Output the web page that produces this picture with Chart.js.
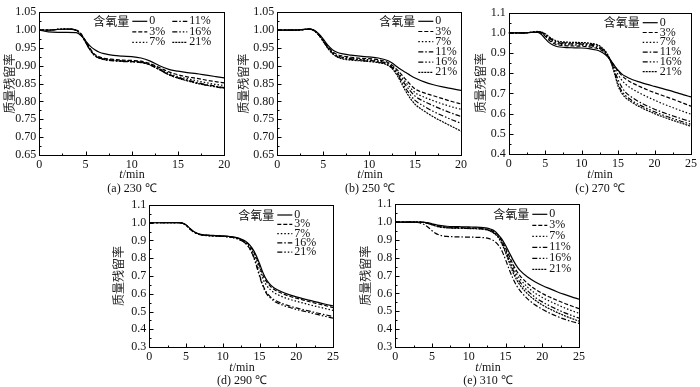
<!DOCTYPE html>
<html>
<head>
<meta charset="utf-8">
<script src="https://cdn.jsdelivr.net/npm/chart.js@4.4.0/dist/chart.umd.min.js"></script>
<style>
  body { margin: 0; background: #fff; width: 700px; height: 387px; position: relative; overflow: hidden; font-family: "Liberation Serif", serif; }
  canvas { position: absolute; }
  .lbl { position: absolute; transform: translate(-50%, -50%); font-size: 12px; line-height: 1; white-space: nowrap; color: #111; }
</style>
</head>
<body>
<canvas id="pa"></canvas>
<canvas id="pb"></canvas>
<canvas id="pc"></canvas>
<canvas id="pd"></canvas>
<canvas id="pe"></canvas>

<div class="lbl" style="left:132px;top:174px"><i>t</i>/min</div>
<div class="lbl" style="left:132px;top:188px">(a) 230 ℃</div>
<div class="lbl" style="left:370px;top:174px"><i>t</i>/min</div>
<div class="lbl" style="left:370px;top:188px">(b) 250 ℃</div>
<div class="lbl" style="left:600px;top:174px"><i>t</i>/min</div>
<div class="lbl" style="left:600px;top:188px">(c) 270 ℃</div>
<div class="lbl" style="left:242px;top:367px"><i>t</i>/min</div>
<div class="lbl" style="left:242px;top:380px">(d) 290 ℃</div>
<div class="lbl" style="left:488px;top:367px"><i>t</i>/min</div>
<div class="lbl" style="left:488px;top:380px">(e) 310 ℃</div>

<script>
// oxygen content labels
const oxygen = ["0", "3%", "7%", "11%", "16%", "21%"];
const oxygenD = ["0", "3%", "7%", "16%", "21%"];

// (a) 230 C
const timeA = [0,1,2,3,4,4.5,5,5.5,6,6.5,7,8,9,10,11,12,13,14,15,16,17,18,19,20];
const a0  = [1.000,0.995,0.994,0.994,0.993,0.985,0.970,0.955,0.945,0.938,0.934,0.929,0.927,0.926,0.922,0.913,0.900,0.890,0.885,0.881,0.878,0.874,0.870,0.866];
const a3  = [1.000,1.000,1.002,1.003,1.000,0.990,0.970,0.948,0.932,0.925,0.921,0.918,0.916,0.915,0.913,0.906,0.895,0.883,0.875,0.869,0.865,0.860,0.856,0.852];
const a7  = [1.000,1.000,1.002,1.003,1.000,0.989,0.968,0.946,0.930,0.923,0.919,0.916,0.914,0.913,0.911,0.904,0.892,0.879,0.870,0.864,0.858,0.853,0.848,0.845];
const a11 = [1.000,1.000,1.002,1.003,1.000,0.989,0.967,0.945,0.929,0.922,0.918,0.915,0.913,0.912,0.910,0.903,0.890,0.876,0.867,0.860,0.853,0.848,0.843,0.839];
const a16 = [1.000,1.000,1.002,1.003,0.999,0.988,0.966,0.944,0.928,0.921,0.917,0.914,0.912,0.911,0.909,0.902,0.889,0.875,0.866,0.859,0.852,0.846,0.841,0.837];
const a21 = [1.000,1.000,1.002,1.003,0.999,0.988,0.966,0.944,0.929,0.922,0.918,0.915,0.913,0.912,0.910,0.902,0.889,0.875,0.865,0.858,0.851,0.846,0.842,0.838];

// (b) 250 C
const timeB = [0,1,2,3,3.5,4,4.5,5,5.5,6,6.5,7,8,9,10,11,12,12.5,13,13.5,14,14.5,15,16,17,18,19,20];
const b0  = [1.000,1.000,1.000,1.002,1.003,1.000,0.990,0.975,0.958,0.945,0.938,0.934,0.930,0.927,0.925,0.922,0.915,0.908,0.898,0.889,0.881,0.873,0.866,0.855,0.847,0.841,0.836,0.831];
const b3  = [1.000,1.000,1.000,1.002,1.003,0.999,0.988,0.972,0.954,0.940,0.932,0.928,0.924,0.921,0.920,0.917,0.910,0.902,0.890,0.876,0.861,0.847,0.835,0.824,0.816,0.808,0.800,0.793];
const b7  = [1.000,1.000,1.000,1.002,1.003,0.999,0.988,0.971,0.952,0.937,0.929,0.925,0.921,0.918,0.917,0.914,0.907,0.899,0.886,0.870,0.853,0.838,0.825,0.812,0.802,0.793,0.785,0.778];
const b11 = [1.000,1.000,1.000,1.002,1.003,0.999,0.987,0.970,0.951,0.936,0.928,0.924,0.920,0.917,0.915,0.912,0.905,0.896,0.882,0.864,0.845,0.829,0.815,0.800,0.788,0.777,0.767,0.758];
const b16 = [1.000,1.000,1.000,1.002,1.003,0.999,0.987,0.969,0.950,0.935,0.926,0.922,0.918,0.915,0.913,0.910,0.903,0.894,0.878,0.858,0.836,0.818,0.803,0.786,0.772,0.760,0.749,0.739];
const b21 = [1.000,1.000,1.000,1.002,1.003,0.998,0.986,0.968,0.949,0.934,0.925,0.920,0.916,0.914,0.912,0.909,0.902,0.892,0.875,0.852,0.828,0.808,0.792,0.773,0.757,0.743,0.730,0.717];

// (c) 270 C
const timeC = [0,1,2,3,4,4.5,5,5.5,6,6.5,7,8,9,10,11,12,12.5,13,13.5,14,14.5,15,15.5,16,17,18,19,20,21,22,23,24,25];
const c0  = [1.000,1.000,1.000,1.002,1.003,0.992,0.972,0.953,0.941,0.934,0.930,0.927,0.926,0.925,0.922,0.915,0.909,0.899,0.884,0.862,0.838,0.815,0.797,0.785,0.768,0.756,0.745,0.735,0.725,0.715,0.704,0.693,0.683];
const c3  = [1.000,1.000,1.000,1.002,1.004,0.998,0.984,0.965,0.951,0.943,0.939,0.936,0.935,0.934,0.931,0.924,0.918,0.907,0.889,0.864,0.836,0.810,0.789,0.773,0.751,0.734,0.718,0.704,0.691,0.678,0.665,0.651,0.637];
const c7  = [1.000,1.000,1.000,1.002,1.005,1.000,0.988,0.970,0.956,0.948,0.944,0.941,0.940,0.939,0.936,0.929,0.923,0.911,0.891,0.862,0.828,0.794,0.766,0.747,0.721,0.701,0.683,0.667,0.651,0.637,0.623,0.610,0.597];
const c11 = [1.000,1.000,1.000,1.003,1.006,1.002,0.992,0.976,0.962,0.953,0.949,0.946,0.945,0.944,0.941,0.934,0.927,0.914,0.893,0.860,0.815,0.768,0.732,0.707,0.678,0.656,0.638,0.622,0.608,0.595,0.583,0.571,0.560];
const c16 = [1.000,1.000,1.000,1.003,1.006,1.003,0.994,0.979,0.966,0.957,0.953,0.950,0.949,0.948,0.945,0.939,0.931,0.917,0.895,0.858,0.806,0.748,0.712,0.690,0.663,0.642,0.625,0.609,0.595,0.582,0.570,0.558,0.547];
const c21 = [1.000,1.000,1.000,1.003,1.007,1.004,0.996,0.982,0.969,0.961,0.957,0.954,0.953,0.952,0.949,0.943,0.935,0.920,0.897,0.857,0.800,0.737,0.702,0.680,0.654,0.633,0.616,0.600,0.586,0.573,0.561,0.549,0.537];

// (d) 290 C
const timeD = [0,1,2,3,4,4.5,5,5.5,6,6.5,7,8,9,10,11,12,12.5,13,13.5,14,14.5,15,15.5,16,16.5,17,18,19,20,21,22,23,24,25];
const d0  = [1.000,1.000,1.000,1.001,1.001,0.998,0.988,0.969,0.952,0.941,0.935,0.930,0.928,0.926,0.922,0.915,0.908,0.898,0.882,0.857,0.820,0.770,0.715,0.675,0.650,0.633,0.611,0.595,0.582,0.571,0.561,0.551,0.541,0.532];
const d3  = [1.000,1.000,1.000,1.001,1.001,0.998,0.987,0.968,0.951,0.940,0.934,0.929,0.927,0.925,0.921,0.913,0.905,0.895,0.878,0.850,0.810,0.755,0.700,0.665,0.641,0.624,0.603,0.587,0.575,0.564,0.553,0.543,0.533,0.522];
const d7  = [1.000,1.000,1.000,1.001,1.001,0.998,0.987,0.967,0.950,0.939,0.933,0.928,0.926,0.924,0.920,0.912,0.903,0.892,0.873,0.842,0.797,0.738,0.680,0.645,0.622,0.606,0.585,0.570,0.558,0.547,0.536,0.526,0.516,0.506];
const d16 = [1.000,1.000,1.000,1.001,1.001,0.997,0.986,0.966,0.949,0.938,0.932,0.927,0.925,0.923,0.919,0.910,0.900,0.888,0.866,0.830,0.775,0.705,0.645,0.605,0.582,0.566,0.546,0.532,0.520,0.510,0.500,0.490,0.481,0.472];
const d21 = [1.000,1.000,1.000,1.001,1.001,0.997,0.986,0.966,0.949,0.938,0.932,0.927,0.925,0.923,0.919,0.910,0.900,0.887,0.864,0.826,0.768,0.698,0.638,0.598,0.575,0.558,0.538,0.524,0.512,0.502,0.492,0.482,0.472,0.463];

// (e) 310 C
const timeE = [0,1,2,3,4,4.5,5,5.5,6,6.5,7,8,9,10,11,12,12.5,13,13.5,14,14.5,15,15.5,16,16.5,17,18,19,20,21,22,23,24,25];
const e0  = [1.000,1.000,1.000,1.000,0.999,0.996,0.991,0.986,0.982,0.979,0.977,0.975,0.974,0.973,0.972,0.969,0.966,0.960,0.950,0.930,0.905,0.870,0.830,0.790,0.755,0.728,0.692,0.666,0.645,0.627,0.610,0.595,0.581,0.568];
const e3  = [1.000,1.000,1.000,1.000,0.998,0.994,0.988,0.982,0.977,0.974,0.972,0.970,0.969,0.968,0.967,0.964,0.960,0.954,0.943,0.925,0.895,0.855,0.810,0.765,0.727,0.698,0.656,0.625,0.600,0.580,0.562,0.545,0.530,0.515];
const e7  = [1.000,1.000,1.000,1.000,0.998,0.993,0.987,0.980,0.975,0.972,0.970,0.968,0.967,0.966,0.965,0.962,0.958,0.951,0.939,0.920,0.888,0.845,0.797,0.750,0.710,0.680,0.636,0.603,0.578,0.557,0.538,0.520,0.504,0.489];
const e11 = [1.000,1.000,1.000,0.998,0.985,0.970,0.952,0.937,0.928,0.923,0.920,0.918,0.917,0.916,0.915,0.913,0.910,0.904,0.893,0.873,0.840,0.790,0.735,0.685,0.645,0.615,0.570,0.537,0.512,0.490,0.472,0.456,0.443,0.432];
const e16 = [1.000,1.000,1.000,1.000,0.998,0.993,0.986,0.979,0.974,0.971,0.969,0.967,0.966,0.965,0.964,0.961,0.957,0.950,0.937,0.918,0.883,0.837,0.785,0.735,0.693,0.662,0.615,0.580,0.553,0.531,0.511,0.493,0.477,0.462];
const e21 = [1.000,1.000,1.000,1.000,0.998,0.992,0.985,0.978,0.973,0.970,0.968,0.966,0.965,0.964,0.963,0.960,0.956,0.948,0.935,0.915,0.878,0.830,0.775,0.720,0.678,0.645,0.598,0.563,0.536,0.514,0.494,0.476,0.460,0.445];

// line styles in legend order: solid, dashed, dotted, dash-dot, dash-dot-dot, dense dots
const dashes = [[], [4, 2], [1.5, 2], [5, 2, 1.5, 2], [5, 2, 1.5, 2, 1.5, 2], [2, 1]];

// frame with inward ticks + custom legend
const framePlugin = {
  id: "frame",
  afterDatasetsDraw(chart, args, opts) {
    const { ctx, chartArea: a, scales: { x, y } } = chart;
    const L = Math.round(a.left) + 0.5, R = Math.round(a.right) + 0.5;
    const T = Math.round(a.top) + 0.5, B = Math.round(a.bottom) + 0.5;
    ctx.save();
    ctx.strokeStyle = "#000";
    ctx.lineWidth = 1;
    ctx.setLineDash([]);
    ctx.strokeRect(L, T, R - L, B - T);

    ctx.beginPath();
    const xv = x.ticks.map(t => t.value);
    const xs = xv[1] - xv[0];
    xv.forEach(v => {
      const px = Math.round(x.getPixelForValue(v)) + 0.5;
      ctx.moveTo(px, B); ctx.lineTo(px, B - 4);
      if (v + xs / 2 < x.max) {
        const pm = Math.round(x.getPixelForValue(v + xs / 2)) + 0.5;
        ctx.moveTo(pm, B); ctx.lineTo(pm, B - 2);
      }
    });
    const yv = y.ticks.map(t => t.value);
    const ys = yv[1] - yv[0];
    yv.forEach(v => {
      const py = Math.round(y.getPixelForValue(v)) + 0.5;
      ctx.moveTo(L, py); ctx.lineTo(L + 4, py);
      if (v + ys / 2 < y.max) {
        const pm = Math.round(y.getPixelForValue(v + ys / 2)) + 0.5;
        ctx.moveTo(L, pm); ctx.lineTo(L + 2, pm);
      }
    });
    ctx.stroke();

    // legend
    const lx = a.left + opts.x, ly = a.top + opts.y;
    ctx.fillStyle = "#111";
    ctx.textBaseline = "middle";
    ctx.font = "12px 'Noto Sans CJK SC'";
    ctx.textAlign = "right";
    ctx.fillText("含氧量", lx - 3, ly);
    ctx.font = "12px 'Liberation Serif'";
    ctx.textAlign = "left";
    ctx.lineWidth = 1.2;
    chart.data.datasets.forEach((ds, i) => {
      const col = Math.floor(i / opts.rows), row = i % opts.rows;
      const sx = lx + col * opts.colGap, sy = ly + row * opts.dy;
      ctx.beginPath();
      ctx.setLineDash(ds.borderDash);
      ctx.moveTo(sx, sy); ctx.lineTo(sx + 15, sy);
      ctx.stroke();
      ctx.setLineDash([]);
      ctx.fillText(ds.label, sx + 17, sy);
    });
    ctx.restore();
  }
};

function makeChart(p) {
  const el = document.getElementById(p.id);
  const w = Math.round(p.canvasRight - p.canvasLeft);
  const h = Math.round(p.plot[3] - p.canvasTop + 16);
  el.width = w; el.height = h;
  el.style.left = p.canvasLeft + "px";
  el.style.top = p.canvasTop + "px";
  const axisW = p.plot[0] - p.canvasLeft;
  const datasets = p.series.map((vals, i) => ({
    label: p.labels[i],
    data: p.time.map((t, k) => ({ x: t, y: vals[k] })),
    borderColor: "#000",
    borderWidth: 1.2,
    borderDash: dashes[i],
    pointRadius: 0,
    cubicInterpolationMode: "monotone",
    fill: false
  }));
  new Chart(el, {
    type: "line",
    data: { datasets },
    plugins: [framePlugin],
    options: {
      responsive: false,
      animation: false,
      devicePixelRatio: 1,
      layout: { padding: { left: 0, top: p.plot[1] - p.canvasTop, right: p.canvasRight - p.plot[2], bottom: 0 } },
      plugins: {
        legend: { display: false },
        tooltip: { enabled: false },
        frame: p.legend
      },
      scales: {
        x: {
          type: "linear", min: 0, max: p.xMax,
          grid: { display: false, drawTicks: false },
          border: { display: false },
          ticks: { stepSize: 5, padding: 3, color: "#111", font: { family: "Liberation Serif", size: 12 }, maxRotation: 0 },
          afterFit: s => { s.height = 16; }
        },
        y: {
          min: p.yMin, max: p.yMax,
          grid: { display: false, drawTicks: false },
          border: { display: false },
          ticks: { stepSize: p.yStep, padding: 3, color: "#111", font: { family: "Liberation Serif", size: 12 },
                   callback: v => v.toFixed(p.dec) },
          title: { display: true, text: "质量残留率", color: "#222", padding: { top: 2, bottom: 0 },
                   font: { family: "Noto Sans CJK SC", size: 12 } },
          afterFit: s => { s.width = axisW; }
        }
      }
    }
  });
}

makeChart({ id: "pa", plot: [39.3, 12.3, 224.3, 154.5], canvasLeft: 0, canvasTop: 0, canvasRight: 236,
  time: timeA, series: [a0, a3, a7, a11, a16, a21], labels: oxygen,
  xMax: 20, yMin: 0.65, yMax: 1.05, yStep: 0.05, dec: 2,
  legend: { x: 93, y: 9, dy: 10.5, rows: 3, colGap: 40 } });

makeChart({ id: "pb", plot: [277.3, 12.3, 462.3, 154.5], canvasLeft: 234, canvasTop: 0, canvasRight: 470,
  time: timeB, series: [b0, b3, b7, b11, b16, b21], labels: oxygen,
  xMax: 20, yMin: 0.65, yMax: 1.05, yStep: 0.05, dec: 2,
  legend: { x: 141, y: 9, dy: 10.2, rows: 6, colGap: 0 } });

makeChart({ id: "pc", plot: [508.7, 12.7, 692.3, 154.3], canvasLeft: 471, canvasTop: 0, canvasRight: 700,
  time: timeC, series: [c0, c3, c7, c11, c16, c21], labels: oxygen,
  xMax: 25, yMin: 0.4, yMax: 1.1, yStep: 0.1, dec: 1,
  legend: { x: 134, y: 10, dy: 9.8, rows: 6, colGap: 0 } });

makeChart({ id: "pd", plot: [149.3, 205, 334.3, 346.7], canvasLeft: 109, canvasTop: 190, canvasRight: 342,
  time: timeD, series: [d0, d3, d7, d16, d21], labels: oxygenD,
  xMax: 25, yMin: 0.3, yMax: 1.1, yStep: 0.1, dec: 1,
  legend: { x: 128, y: 10, dy: 9.3, rows: 5, colGap: 0 } });

makeChart({ id: "pe", plot: [395.3, 204.3, 580.7, 346.7], canvasLeft: 356, canvasTop: 190, canvasRight: 588,
  time: timeE, series: [e0, e3, e7, e11, e16, e21], labels: oxygen,
  xMax: 25, yMin: 0.3, yMax: 1.1, yStep: 0.1, dec: 1,
  legend: { x: 137, y: 10, dy: 11, rows: 6, colGap: 0 } });
</script>
</body>
</html>
